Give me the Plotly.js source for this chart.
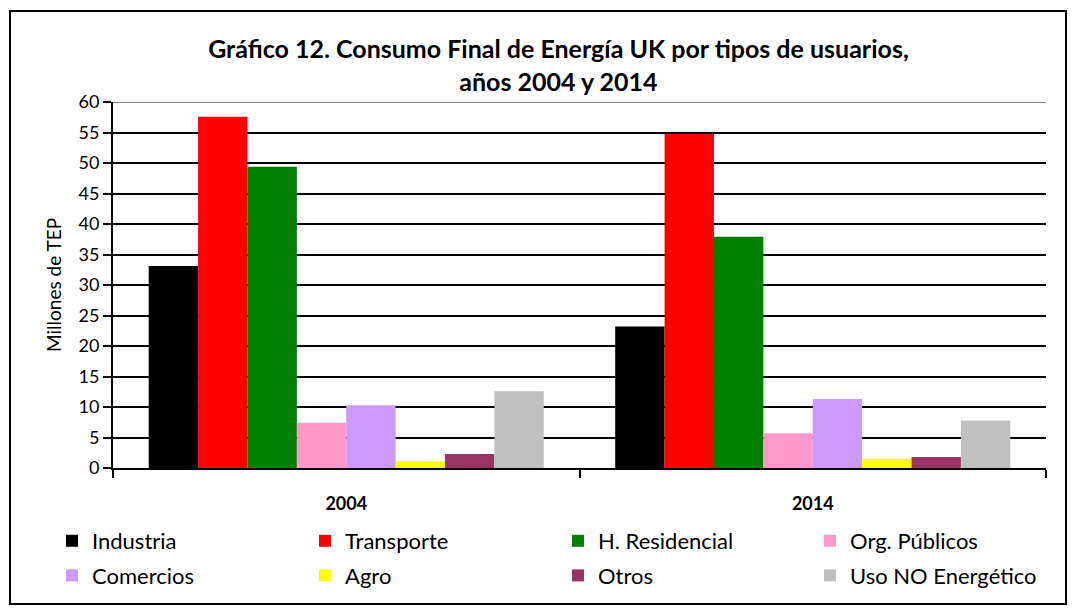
<!DOCTYPE html>
<html>
<head>
<meta charset="utf-8">
<script src="https://cdn.plot.ly/plotly-3.0.1.min.js"></script>
<style>
  html, body { margin: 0; padding: 0; background: #fff; }
  #wrap { position: relative; width: 1076px; height: 614px; }
  #chart { width: 1076px; height: 614px; }
  #frame { position: absolute; left: 9px; top: 10px; width: 1054px; height: 591px;
           border: 2px solid #000; pointer-events: none; }
</style>
</head>
<body>
<div id="wrap">
  <div id="chart"></div>
  <div id="frame"></div>
</div>
<script>
const years = ["2004", "2014"];
const seriesNames = ["Industria", "Transporte", "H. Residencial", "Org. Públicos",
                     "Comercios", "Agro", "Otros", "Uso NO Energético"];
const industria    = [33.1, 23.2];
const transporte   = [57.6, 54.8];
const residencial  = [49.4, 37.9];
const orgPublicos  = [7.4, 5.7];
const comercios    = [10.3, 11.3];
const agro         = [1.1, 1.5];
const otros        = [2.3, 1.8];
const usoNoEnerg   = [12.6, 7.8];
const yTicks = [0, 5, 10, 15, 20, 25, 30, 35, 40, 45, 50, 55, 60];
const yTitle = "Millones de TEP";

const values = [industria, transporte, residencial, orgPublicos, comercios, agro, otros, usoNoEnerg];
const colors = ["#000000", "#FF0000", "#008000", "#FF99CC", "#CC99FF", "#FFFF00", "#993366", "#C0C0C0"];

const FONT = "Lato, 'Open Sans', sans-serif";
const legendIds = ["legend", "legend2", "legend3", "legend4"];

const traces = seriesNames.map((name, i) => ({
  type: "bar",
  name: name,
  x: years,
  y: values[i],
  marker: { color: colors[i], line: { width: 0 } },
  legend: legendIds[i % 4],
  legendgroup: "g" + i,
  hoverinfo: "name+y"
}));

const colX = [52, 305, 558, 810];
function mkLegend(x) {
  return {
    orientation: "v",
    xref: "container", yref: "container",
    x: x / 1076, y: 1 - 520 / 614,
    xanchor: "left", yanchor: "top",
    tracegroupgap: 3,
    traceorder: "grouped",
    font: { family: FONT, size: 22, color: "#000" },
    bgcolor: "rgba(0,0,0,0)",
    itemclick: false, itemdoubleclick: false
  };
}

const layout = {
  width: 1076, height: 614,
  paper_bgcolor: "#fff", plot_bgcolor: "#fff",
  margin: { l: 113, r: 30, t: 102, b: 146, autoexpand: false },
  title: {
    text: "<b>Gráfico 12. Consumo Final de Energía UK por tipos de usuarios,<br>años 2004 y 2014</b>",
    font: { family: FONT, size: 25, color: "#000" },
    x: 0.519, xanchor: "center",
    y: 1 - 58 / 614, yanchor: "top", yref: "container"
  },
  barmode: "group",
  bargap: 0.153,
  bargroupgap: 0,
  xaxis: {
    type: "category",
    tickson: "boundaries",
    ticks: "outside", ticklen: 8, tickwidth: 2, tickcolor: "#000",
    showline: true, linecolor: "#000", linewidth: 2,
    showgrid: false,
    tickfont: { family: FONT, size: 18, color: "#000", weight: "bold" },
    ticklabelstandoff: 18
  },
  yaxis: {
    range: [0, 60],
    tickvals: yTicks,
    ticks: "outside", ticklen: 8, tickwidth: 2, tickcolor: "#000",
    showline: true, linecolor: "#000", linewidth: 2,
    showgrid: true, gridcolor: "#000", gridwidth: 2,
    zeroline: false,
    tickfont: { family: FONT, size: 18, color: "#000" }
  },
  annotations: [{
    text: yTitle, textangle: -90,
    xref: "paper", yref: "paper",
    x: (53 - 113) / 933, y: 0.5,
    xanchor: "center", yanchor: "middle",
    showarrow: false,
    font: { family: FONT, size: 19, color: "#000" }
  }],
  shapes: [{
    type: "line", xref: "paper", yref: "y", x0: 0, x1: 1, y0: 60, y1: 60,
    line: { color: "#808080", width: 2 }
  }],
  legend: mkLegend(colX[0]),
  legend2: mkLegend(colX[1]),
  legend3: mkLegend(colX[2]),
  legend4: mkLegend(colX[3]),
  showlegend: true
};

Plotly.newPlot("chart", traces, layout, { displayModeBar: false, staticPlot: true });
</script>
</body>
</html>
